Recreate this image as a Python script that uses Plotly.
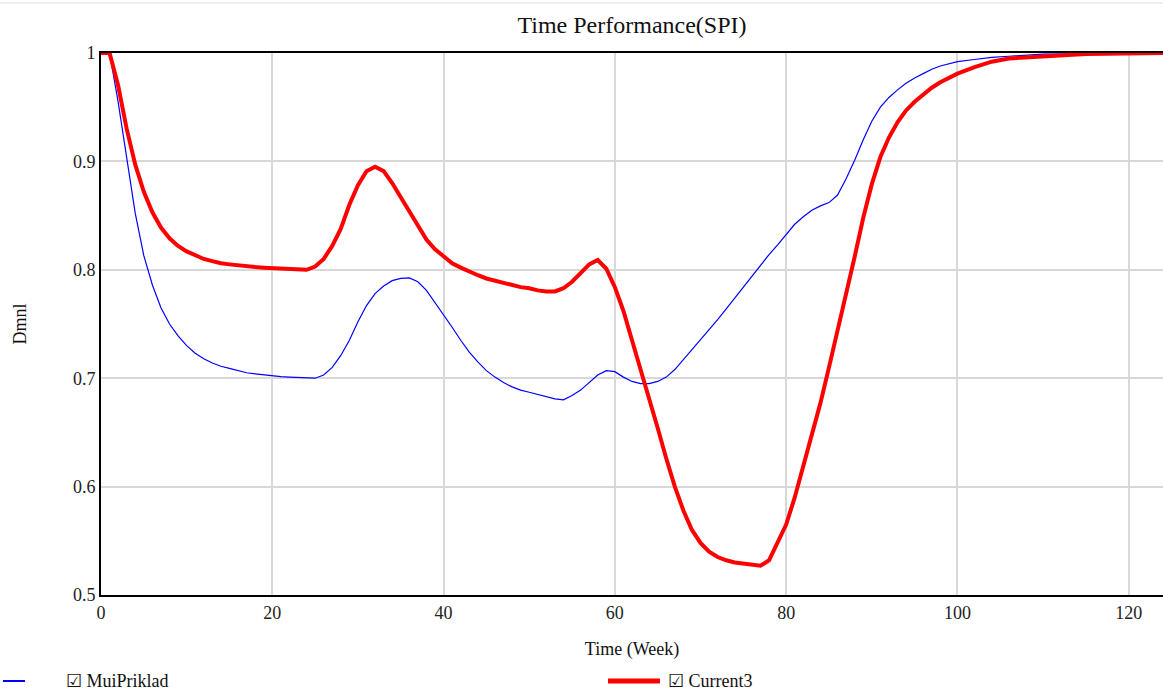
import plotly.graph_objects as go

# ---- data ----
time_red = [0, 1, 2, 3, 4, 5, 6, 7, 8, 9, 10, 11, 12, 13, 14, 15, 16, 17, 18, 19, 20,
            21, 22, 23, 24, 25, 26, 27, 28, 29, 30, 31, 32, 33, 34, 35, 36, 37, 38, 39, 40,
            41, 42, 43, 44, 45, 46, 47, 48, 49, 50, 51, 52, 53, 54, 55, 56, 57, 58, 59, 60,
            61, 62, 63, 64, 65, 66, 67, 68, 69, 70, 71, 72, 73, 74, 75, 76, 77, 78, 79, 80,
            81, 82, 83, 84, 85, 86, 87, 88, 89, 90, 91, 92, 93, 94, 95, 96, 97, 98, 99, 100,
            102, 104, 106, 110, 115, 124]
current3 = [1.0, 1.0, 0.97, 0.93, 0.897, 0.872, 0.853, 0.839, 0.829, 0.822, 0.817,
            0.813, 0.810, 0.808, 0.806, 0.805, 0.804, 0.803, 0.8025, 0.802, 0.8015,
            0.801, 0.8008, 0.8005, 0.800, 0.803, 0.810, 0.822, 0.838, 0.860, 0.878,
            0.891, 0.895, 0.891, 0.880, 0.867, 0.854, 0.840, 0.828, 0.819, 0.812,
            0.806, 0.802, 0.798, 0.795, 0.792, 0.790, 0.788, 0.786, 0.784, 0.783,
            0.781, 0.780, 0.780, 0.783, 0.789, 0.797, 0.805, 0.809, 0.801, 0.784,
            0.762, 0.735, 0.709, 0.681, 0.654, 0.626, 0.600, 0.578, 0.560, 0.548,
            0.540, 0.535, 0.532, 0.530, 0.529, 0.528, 0.527, 0.532, 0.548, 0.565,
            0.590, 0.618, 0.648, 0.677, 0.710, 0.743, 0.777, 0.812, 0.848, 0.879,
            0.904, 0.922, 0.936, 0.947, 0.955, 0.962, 0.968, 0.973, 0.977, 0.981,
            0.987, 0.992, 0.995, 0.997, 0.999, 1.0]

time_blue = [0, 1, 2, 3, 4, 5, 6, 7, 8, 9, 10, 11, 12, 13, 14, 15, 16, 17, 18, 19, 20,
             21, 22, 23, 24, 25, 26, 27, 28, 29, 30, 31, 32, 33, 34, 35, 36, 37, 38, 39, 40,
             41, 42, 43, 44, 45, 46, 47, 48, 49, 50, 51, 52, 53, 54, 55, 56, 57, 58, 59, 60,
             61, 62, 63, 64, 65, 66, 67, 68, 69, 70, 71, 72, 73, 74, 75, 76, 77, 78, 79, 80,
             81, 82, 83, 84, 85, 86, 87, 88, 89, 90, 91, 92, 93, 94, 95, 96, 97, 98, 99, 100,
             102, 104, 106, 110, 124]
mui_priklad = [1.0, 1.0, 0.955, 0.905, 0.852, 0.813, 0.786, 0.765, 0.750, 0.739, 0.730,
               0.723, 0.718, 0.714, 0.711, 0.709, 0.707, 0.705, 0.704, 0.703, 0.702,
               0.7015, 0.701, 0.7005, 0.700, 0.700, 0.703, 0.710, 0.721, 0.735, 0.752,
               0.767, 0.778, 0.785, 0.790, 0.792, 0.7925, 0.789, 0.781, 0.770, 0.759,
               0.747, 0.735, 0.724, 0.715, 0.707, 0.701, 0.696, 0.692, 0.689, 0.687,
               0.685, 0.683, 0.681, 0.680, 0.684, 0.689, 0.696, 0.703, 0.707, 0.706,
               0.701, 0.697, 0.695, 0.695, 0.697, 0.701, 0.708, 0.717, 0.726, 0.735,
               0.745, 0.754, 0.764, 0.774, 0.785, 0.795, 0.804, 0.814, 0.823, 0.833,
               0.842, 0.849, 0.855, 0.859, 0.862, 0.869, 0.884, 0.901, 0.920, 0.937,
               0.950, 0.959, 0.966, 0.972, 0.977, 0.981, 0.985, 0.988, 0.990, 0.992,
               0.994, 0.996, 0.997, 0.999, 1.0]

series_names = ["MuiPriklad", "Current3"]
x_ticks = [0, 20, 40, 60, 80, 100, 120]
y_ticks = [0.5, 0.6, 0.7, 0.8, 0.9, 1.0]

SERIF = "Liberation Serif, Times New Roman, serif"
BLUE = "#0000ff"
RED = "#ff0000"

fig = go.Figure()
fig.add_trace(go.Scatter(x=time_blue, y=mui_priklad, mode="lines",
                         name=series_names[0], showlegend=False,
                         line=dict(color=BLUE, width=1.2)))
fig.add_trace(go.Scatter(x=time_red, y=current3, mode="lines",
                         name=series_names[1], showlegend=False,
                         line=dict(color=RED, width=4)))

# plot area in pixels: x 101..1163, y 53..595
L, R, T, B = 101, 1163, 53, 595
W, H = R - L, B - T


def px(xp):
    return (xp - L) / W


def py(yp):
    return (B - yp) / H


fig.update_layout(
    width=1163, height=692,
    margin=dict(l=L, r=0, t=T, b=692 - B, autoexpand=False),
    paper_bgcolor="white", plot_bgcolor="white",
    font=dict(family=SERIF, size=18, color="#111"),
    title=dict(text="Time Performance(SPI)", x=0.5, xref="paper", xanchor="center",
               y=0.964, yanchor="middle", font=dict(family=SERIF, size=24, color="#111")),
    showlegend=False,
    xaxis=dict(range=[0, 124], tickvals=x_ticks, showgrid=True,
               gridcolor="#d8d8d8", gridwidth=2, showline=True, linecolor="black",
               linewidth=2, mirror=True, ticks="", zeroline=False,
               tickfont=dict(family=SERIF, size=18, color="#222"),
               title=dict(text="Time (Week)", standoff=21,
                          font=dict(family=SERIF, size=18, color="#111"))),
    yaxis=dict(range=[0.5, 1.0], tickvals=y_ticks, showgrid=True,
               gridcolor="#d8d8d8", gridwidth=2, showline=True, linecolor="black",
               linewidth=2, mirror=True, ticks="", zeroline=False,
               tickfont=dict(family=SERIF, size=18, color="#222"),
               title=dict(text="Dmnl", standoff=42,
                          font=dict(family=SERIF, size=18, color="#111"))),
)

# faint top rule
fig.add_shape(type="line", xref="paper", yref="paper", x0=px(0), x1=px(1163),
              y0=py(3), y1=py(3), line=dict(color="#e8e8e8", width=1.5))

# manual legend (line sample + checkbox + name)
leg_y = py(681)
legend_items = [
    (series_names[0], BLUE, 2, 3, 25, 64),
    (series_names[1], RED, 5, 608, 660, 666),
]
for name, col, w, x0, x1, xt in legend_items:
    fig.add_shape(type="line", xref="paper", yref="paper", x0=px(x0), x1=px(x1),
                  y0=leg_y, y1=leg_y, line=dict(color=col, width=w))
    fig.add_annotation(xref="paper", yref="paper", x=px(xt), y=leg_y,
                       xanchor="left", yanchor="middle", showarrow=False,
                       text="\u2611 " + name,
                       font=dict(family=SERIF, size=18, color="#111"))

fig.write_html("out.html")
